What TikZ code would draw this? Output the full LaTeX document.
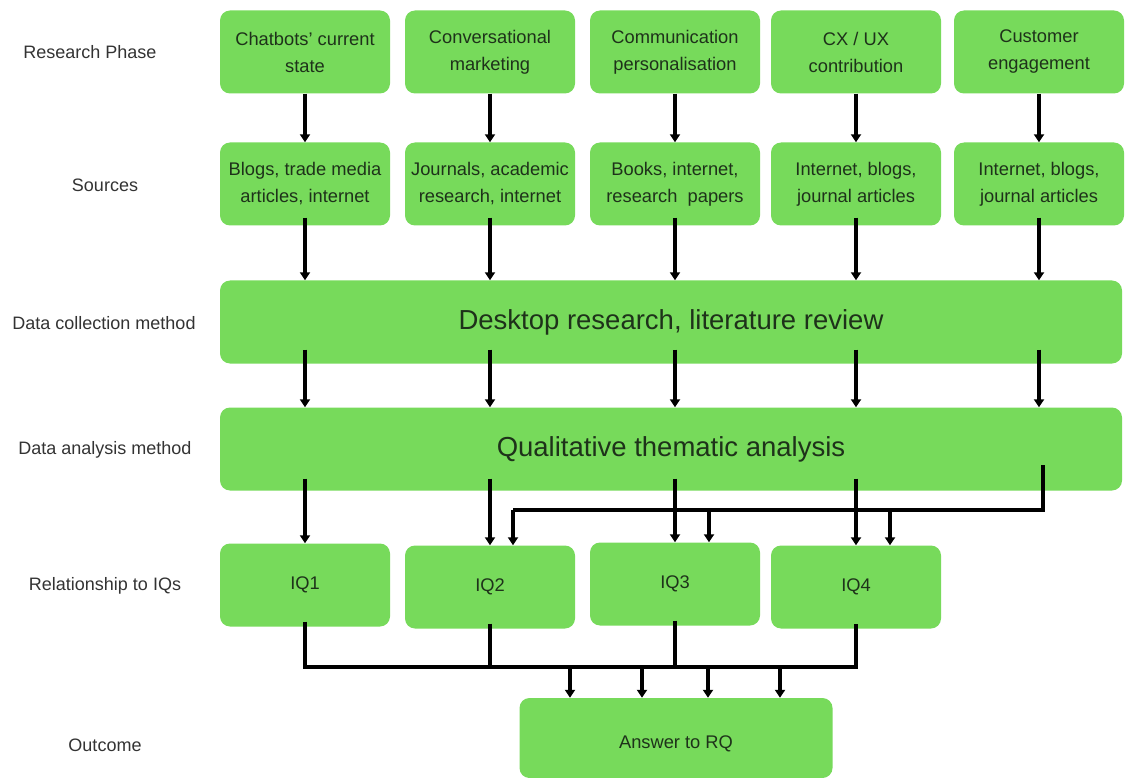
\documentclass[tikz,border=0pt]{standalone}
\usepackage{fontspec}
\setmainfont{Liberation Sans}
\usetikzlibrary{arrows.meta}
\definecolor{boxgreen}{RGB}{119,218,91}
\definecolor{boxtext}{RGB}{30,50,26}

\begin{document}
\begin{tikzpicture}[x=1pt, y=-1pt,
  box/.style={fill=boxgreen, rounded corners=10pt, minimum width=170pt,
    minimum height=83pt, align=center, text=boxtext, inner sep=2pt,
    font=\fontsize{18.3}{27}\selectfont},
  wide/.style={box, minimum width=902pt, font=\fontsize{27.5}{30}\selectfont},
  phase/.style={font=\fontsize{18}{20}\selectfont, text=black!80},
  line/.style={line width=3.5pt},
  arr/.style={line, -{Triangle[width=10pt,length=8pt]}}]
  \useasboundingbox (0,0) rectangle (1125,778);
  % row labels
  \node[phase] (lphase)   at (90,52)  {Research Phase};
  \node[phase] (lsource)  at (105,185) {Sources};
  \node[phase] (lcollect) at (104,323) {Data collection method};
  \node[phase] (lanalyse) at (105,450) {Data analysis method};
  \node[phase] (liq)      at (105,586) {Relationship to IQs};
  \node[phase] (lout)     at (105,745) {Outcome};
  % research phases
  \node[box] (r1) at (305,52)  {Chatbots' current\\state};
  \node[box] (r2) at (490,52)  {Conversational\\marketing};
  \node[box] (r3) at (675,52)  {Communication\\personalisation};
  \node[box] (r4) at (856,52)  {CX / UX\\contribution};
  \node[box] (r5) at (1039,52) {Customer\\engagement};
  % sources
  \node[box] (s1) at (305,184)  {Blogs, trade media\\articles, internet};
  \node[box] (s2) at (490,184)  {Journals, academic\\research, internet};
  \node[box] (s3) at (675,184)  {Books, internet,\\research\ \ papers};
  \node[box] (s4) at (856,184)  {Internet, blogs,\\journal articles};
  \node[box] (s5) at (1039,184) {Internet, blogs,\\journal articles};
  % methods
  \node[wide] (collect) at (671,322) {Desktop research, literature review};
  \node[wide] (analyse) at (671,449) {Qualitative thematic analysis};
  % IQs and outcome
  \node[box] (iq1) at (305,585) {IQ1};
  \node[box] (iq2) at (490,587) {IQ2};
  \node[box] (iq3) at (675,584) {IQ3};
  \node[box] (iq4) at (856,587) {IQ4};
  \node[box, minimum width=313pt, minimum height=80pt,
    text height=24pt, text depth=4pt] (answer) at (676,738) {Answer to RQ};

  \foreach \i in {1,...,5} {
    \draw[arr] (r\i.south) -- (s\i.north);
    \draw[arr] ([yshift=8pt]s\i.south) -- (s\i.south |- collect.north);
    \draw[arr] ([yshift=14pt]collect.south -| s\i) -- (analyse.north -| s\i);
  }
  \foreach \i in {1,...,4}
    \draw[arr] ([yshift=12pt]analyse.south -| iq\i) -- (iq\i.north);

  % last column feeds IQ2 to IQ4
  \coordinate (tap) at (1043,465);
  \coordinate (k2) at (513,510);
  \coordinate (k3) at (709,510);
  \coordinate (k4) at (890,510);
  \draw[line] (tap) |- (k2);
  \foreach \i in {2,3,4}
    \draw[arr] (k\i) -- (k\i |- iq\i.north);

  % IQs to the answer
  \coordinate (hb) at (0,667);
  \draw[line] ([yshift=5pt]iq1.south) -- (iq1.south |- hb) -- (iq4.south |- hb) -- ([yshift=5pt]iq4.south);
  \draw[line] ([yshift=5pt]iq2.south) -- (iq2.south |- hb);
  \draw[line] ([yshift=5pt]iq3.south) -- (iq3.south |- hb);
  \foreach \x [count=\n] in {570,642,708,780} {
    \coordinate (a\n) at (\x,667);
    \draw[arr] (a\n) -- (a\n |- answer.north);
  }
\end{tikzpicture}
\end{document}
